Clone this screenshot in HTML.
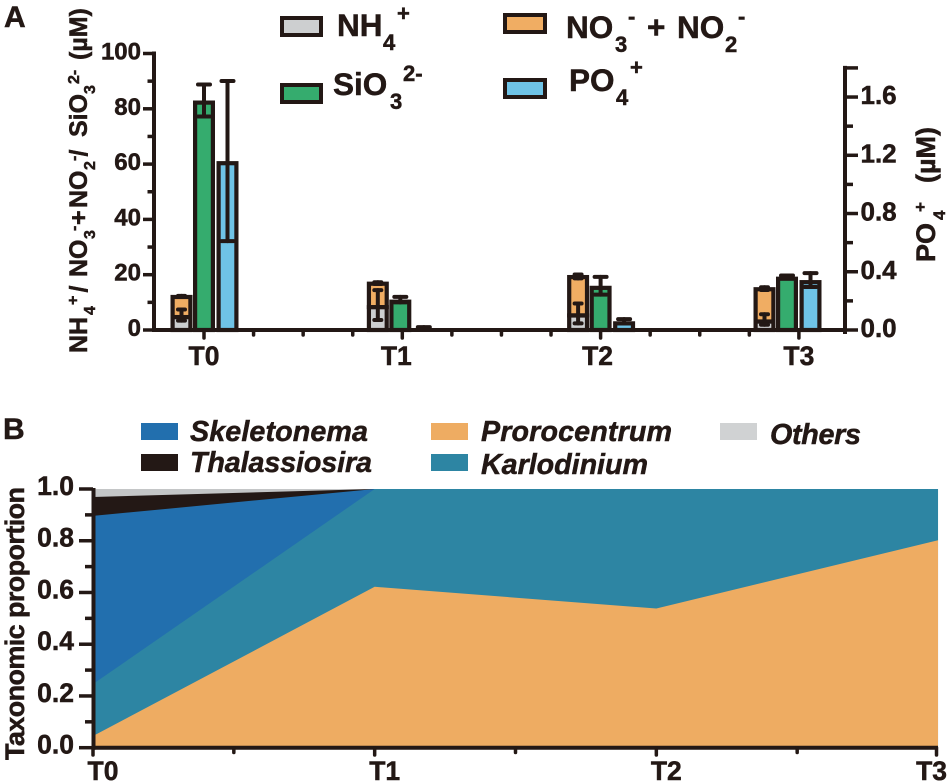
<!DOCTYPE html>
<html lang="en">
<head>
<meta charset="utf-8">
<title>Nutrients and taxonomic proportion</title>
<style>
  html, body { margin: 0; padding: 0; background: #fff; }
  svg { display: block; }
  text { font-family: "Liberation Sans", sans-serif; font-weight: bold; fill: #231815; stroke: #231815; stroke-width: 0.5px; white-space: pre; }
</style>
</head>
<body>
<svg id="figure" xmlns="http://www.w3.org/2000/svg" width="950" height="784" viewBox="0 0 950 784">
  <rect width="950" height="784" fill="#fff"/>
  <g id="panelA"></g>
  <g id="panelB"></g>

  <text x="4" y="27" font-size="30">A</text>
  <text x="3" y="439" font-size="30">B</text>

  <g>
    <rect x="282" y="18" width="39" height="17" fill="#CDCFD0" stroke="#231815" stroke-width="4"/>
    <text x="337" y="36" font-size="31.5">NH<tspan x="383" font-size="22" dy="14">4</tspan><tspan x="397" font-size="22" dy="-29">+</tspan></text>
    <rect x="282" y="85" width="39" height="17" fill="#35AC6E" stroke="#231815" stroke-width="4"/>
    <text x="333" y="95" font-size="31.5">SiO<tspan x="390" font-size="22" dy="14">3</tspan><tspan x="403" font-size="22" dy="-28">2-</tspan></text>
    <rect x="505" y="15" width="40" height="17" fill="#F0AD63" stroke="#231815" stroke-width="4"/>
    <text x="566" y="38" font-size="31.5">NO<tspan x="615" font-size="22" dy="14">3</tspan><tspan x="628" font-size="22" dy="-28">-</tspan><tspan x="647" dy="14">+</tspan><tspan x="677">NO</tspan><tspan x="725" font-size="22" dy="14">2</tspan><tspan x="738" font-size="22" dy="-28">-</tspan></text>
    <rect x="505" y="80" width="40" height="17" fill="#6FC3E6" stroke="#231815" stroke-width="4"/>
    <text x="569" y="91" font-size="31.5">PO<tspan x="616" font-size="22" dy="14">4</tspan><tspan x="630" font-size="22" dy="-30">+</tspan></text>
  </g>

  <text transform="translate(87,353) rotate(-90)" x="0" y="0" font-size="25">NH<tspan x="38" font-size="16" dy="8">4</tspan><tspan x="48" font-size="16" dy="-17">+</tspan><tspan x="60.5" dy="9">/</tspan><tspan x="76">NO</tspan><tspan x="114" font-size="16" dy="8">3</tspan><tspan x="122" font-size="16" dy="-16">-</tspan><tspan x="128" dy="8">+</tspan><tspan x="145">NO</tspan><tspan x="183" font-size="16" dy="8">2</tspan><tspan x="192" font-size="16" dy="-16">-</tspan><tspan x="196.5" dy="8">/</tspan><tspan x="216">SiO</tspan><tspan x="259" font-size="16" dy="8">3</tspan><tspan x="269" font-size="16" dy="-16">2-</tspan><tspan x="293" dy="8">(µM)</tspan></text>
  <text transform="translate(935,262) rotate(-90)" x="0" y="0" font-size="27">PO<tspan x="42" font-size="17" dy="10">4</tspan><tspan x="50" font-size="17" dy="-19">+</tspan><tspan x="79" dy="9">(µM)</tspan></text>
  <text transform="translate(24,760) rotate(-90)" font-size="27" textLength="273">Taxonomic proportion</text>

  <g>
    <rect x="141" y="423" width="37" height="17" fill="#226FAE"/>
    <text x="190" y="441" font-size="28.7" font-style="italic" textLength="178">Skeletonema</text>
    <rect x="141" y="454" width="37" height="17" fill="#231815"/>
    <text x="190" y="472" font-size="28.7" font-style="italic" textLength="182">Thalassiosira</text>
    <rect x="431" y="423" width="37" height="17" fill="#EEAC62"/>
    <text x="481" y="441" font-size="28.7" font-style="italic" textLength="191">Prorocentrum</text>
    <rect x="431" y="454" width="37" height="17" fill="#2D85A3"/>
    <text x="481" y="474" font-size="28.7" font-style="italic" textLength="167">Karlodinium</text>
    <rect x="720" y="423" width="37" height="17" fill="#D0D2D3"/>
    <text x="770" y="444" font-size="28.7" font-style="italic" textLength="91">Others</text>
  </g>
</svg>

<script>
// ---- Panel A data ----
const timepoints = ['T0', 'T1', 'T2', 'T3'];
const barGroupCentres = [0, 0.99, 2, 2.94];
const nh4Values = [5.4, 9, 6, 3.8];
const nh4Errors = [2, 5.4, 3.6, 1.9];
const no3no2Values = [7.3, 8.5, 13.9, 11.7];
const no3no2Errors = [0.2, 0.3, 0.7, 0.5];
const sio3Values = [83, 11, 16, 19.3];
const sio3Errors = [5.8, 1, 3.2, 0.4];
const po4Values = [1.16, 0.012, 0.06, 0.343];
const po4Errors = [0.55, 0.008, 0.015, 0.048];
const leftTickLabels = [0, 20, 40, 60, 80, 100];
const rightTickLabels = ['0.0', '0.4', '0.8', '1.2', '1.6'];

// ---- Panel B data ----
const prorocentrumShare = [0.045, 0.622, 0.538, 0.802];
const karlodiniumShare = [0.201, 0.378, 0.462, 0.198];
const skeletonemaShare = [0.65, 0, 0, 0];
const thalassiosiraShare = [0.073, 0, 0, 0];
const othersShare = [0.031, 0, 0, 0];
const proportionTickLabels = ['0.0', '0.2', '0.4', '0.6', '0.8', '1.0'];

// ---- Helpers ----
const NS = 'http://www.w3.org/2000/svg';
const INK = '#231815';
const panelA = document.getElementById('panelA');
const panelB = document.getElementById('panelB');

function make(tag, parent) {
  const el = document.createElementNS(NS, tag);
  parent.appendChild(el);
  return el;
}
function drawLine(parent, x1, y1, x2, y2, width, cap) {
  const el = make('line', parent);
  el.setAttribute('x1', x1);
  el.setAttribute('y1', y1);
  el.setAttribute('x2', x2);
  el.setAttribute('y2', y2);
  el.setAttribute('stroke', INK);
  el.setAttribute('stroke-width', width);
  el.setAttribute('stroke-linecap', cap || 'butt');
  return el;
}
function drawText(parent, str, x, y, size, anchor) {
  const el = make('text', parent);
  el.textContent = str;
  el.setAttribute('x', x);
  el.setAttribute('y', y);
  el.setAttribute('font-size', size);
  el.setAttribute('text-anchor', anchor);
  return el;
}

// ---- Panel A axes functions ----
const xA = p => 204 + 198.3 * p;
const yLeft = v => 330 - 2.765 * v;
const yRight = v => 330 - 145.6 * v;
const BAR_HALF = 11;
const BAR_STROKE = 4.2;
const STACK_TOP_INSET = 1.5;

function drawBar(cx, top, bottom, fill) {
  const el = make('rect', panelA);
  el.setAttribute('x', cx - BAR_HALF + BAR_STROKE / 2);
  el.setAttribute('width', 2 * BAR_HALF - BAR_STROKE);
  el.setAttribute('y', top + BAR_STROKE / 2);
  el.setAttribute('height', Math.max(0, bottom - top - BAR_STROKE / 2));
  el.setAttribute('fill', fill);
  el.setAttribute('stroke', INK);
  el.setAttribute('stroke-width', BAR_STROKE);
  return el;
}
function drawError(cx, yHigh, yLow, capHalf, name) {
  const g = make('g', panelA);
  
  
  const stem = drawLine(g, cx, yHigh, cx, yLow, 4, 'round');
  
  
  const capHigh = drawLine(g, cx - capHalf, yHigh, cx + capHalf, yHigh, 4, 'round');
  
  
  const capLow = drawLine(g, cx - capHalf, yLow, cx + capHalf, yLow, 4, 'round');
  
  
}

// ---- Panel A bars ----
timepoints.forEach((t, i) => {
  const centre = xA(barGroupCentres[i]);
  const cxStack = centre - 22.5;
  const cxSi = centre;
  const cxP = centre + 23.5;
  const stackTotal = nh4Values[i] + no3no2Values[i];

  const no3Bar = drawBar(cxStack, yLeft(stackTotal), yLeft(nh4Values[i]) + 2, '#F0AD63');
  
  

  const nh4Bar = drawBar(cxStack, yLeft(nh4Values[i]), yLeft(0), '#CDCFD0');
  
  

  const siBar = drawBar(cxSi, yLeft(sio3Values[i]), yLeft(0), '#35AC6E');
  
  

  const pBar = drawBar(cxP, yRight(po4Values[i]), yRight(0), '#6FC3E6');
  
  

  drawError(cxStack, yLeft(stackTotal + no3no2Errors[i]) + STACK_TOP_INSET, yLeft(stackTotal - no3no2Errors[i]) + STACK_TOP_INSET, 3.5, 'error-no3-no2-' + t);
  drawError(cxStack, yLeft(nh4Values[i] + nh4Errors[i]), yLeft(nh4Values[i] - nh4Errors[i]), 3.5, 'error-nh4-' + t);
  drawError(cxSi, yLeft(sio3Values[i] + sio3Errors[i]), yLeft(sio3Values[i] - sio3Errors[i]), 6, 'error-sio3-' + t);
  drawError(cxP, yRight(po4Values[i] + po4Errors[i]), yRight(po4Values[i] - po4Errors[i]), 6, 'error-po4-' + t);
});

// ---- Panel A axes ----
const xAxisA = drawLine(panelA, 152, yLeft(0), 847, yLeft(0), 4);



const leftAxis = drawLine(panelA, 154, yLeft(100) - 2, 154, yLeft(0) + 2, 4);



const rightAxis = drawLine(panelA, 845, yRight(1.8) - 2, 845, yRight(0) + 4, 4);



for (let v = 0; v <= 100; v += 10) {
  const major = v % 20 === 0;
  const tick = drawLine(panelA, major ? 143 : 147.5, yLeft(v), 154, yLeft(v), 3.5);
  
  
}
leftTickLabels.forEach(v => {
  const lab = drawText(panelA, String(v), 141, yLeft(v) + 6, 24, 'end');
  
  
});

for (let k = 0; k <= 9; k++) {
  const major = k % 2 === 0 || k === 9;
  const v = k * 0.2;
  const tick = drawLine(panelA, 845, yRight(v), major ? 858 : 853, yRight(v), 3.5);
  
  
}
rightTickLabels.forEach(s => {
  const lab = drawText(panelA, s, 860.5, yRight(parseFloat(s)) + 7, 26, 'start');
  
  
});

for (let k = 0; k <= 12; k++) {
  const major = k % 4 === 0;
  const tick = drawLine(panelA, xA(k / 4), yLeft(0), xA(k / 4), major ? 338 : 335, 3.5, 'round');
  
  
}
timepoints.forEach((t, i) => {
  const nudge = i === 1 ? -6 : (i === 2 ? -3 : 0);
  const lab = drawText(panelA, t, xA(i) + nudge, 365, 26.5, 'middle');
  
  
});

// ---- Panel B axes functions ----
const xB = p => 93 + 281.67 * p;
const yB = v => 747.7 - 258.7 * v;

// ---- Panel B stacked areas ----
const stackOrder = [
  ['area-others', othersShare, '#C4C6C7'],
  ['area-thalassiosira', thalassiosiraShare, '#231815'],
  ['area-skeletonema', skeletonemaShare, '#226FAE'],
  ['area-karlodinium', karlodiniumShare, '#2D85A3'],
  ['area-prorocentrum', prorocentrumShare, '#EEAC62']
];
stackOrder.forEach((layer, idx) => {
  const tops = timepoints.map((t, i) => {
    let sum = 0;
    for (let j = idx; j < stackOrder.length; j++) sum += stackOrder[j][1][i];
    return sum;
  });
  let pts = timepoints.map((t, i) => xB(i) + ',' + yB(tops[i])).join(' ');
  pts += ' ' + xB(3) + ',' + yB(0) + ' ' + xB(0) + ',' + yB(0);
  const poly = make('polygon', panelB);
  poly.setAttribute('points', pts);
  poly.setAttribute('fill', layer[2]);
  
  
});

// ---- Panel B axes ----
const xAxisB = drawLine(panelB, 91.5, yB(0), 938, yB(0), 4);



const yAxisB = drawLine(panelB, 93.5, yB(1) - 1, 93.5, yB(0) + 2, 4);



for (let k = 0; k <= 10; k++) {
  const major = k % 2 === 0;
  const tick = drawLine(panelB, major ? 79 : 85, yB(k / 10), 93, yB(k / 10), 3.5);
  
  
}
proportionTickLabels.forEach(s => {
  const lab = drawText(panelB, s, 74, yB(parseFloat(s)) + 6, 26.5, 'end');
  
  
});

for (let k = 0; k <= 6; k++) {
  const major = k % 2 === 0;
  const px = xB(k / 2) - (k === 6 ? 1.5 : 0);
  const tick = drawLine(panelB, px, yB(0), px, major ? 755 : 752.5, 3.5, 'round');
  
  
}
timepoints.forEach((t, i) => {
  const last = i === timepoints.length - 1;
  const lab = drawText(panelB, t, last ? 947 : xB(i) + 10, 780, 26.5, last ? 'end' : 'middle');
  
  
});
</script>
</body>
</html>
